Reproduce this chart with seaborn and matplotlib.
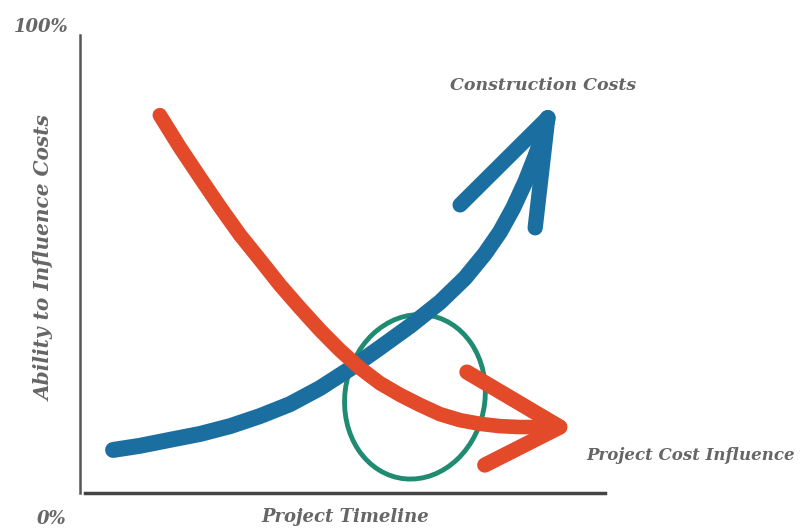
import matplotlib
matplotlib.use("Agg")
import matplotlib.pyplot as plt
import seaborn as sns
import pandas as pd
from matplotlib.patches import Ellipse

# ---- data (percent of timeline, percent of scale) ----
construction_x = [6.3, 11.4, 17.1, 22.9, 28.6, 34.3, 40.0, 45.7, 51.4, 57.1, 62.9, 68.6,
                  73.3, 77.1, 80.0, 82.5, 84.8, 86.7, 88.2, 89.1]
construction_y = [9.4, 10.3, 11.6, 12.9, 14.6, 16.8, 19.4, 22.9, 27.1, 31.7, 36.5, 41.7,
                  46.9, 52.2, 57.0, 62.2, 67.9, 73.4, 78.2, 81.9]
influence_x = [15.2, 19.0, 22.9, 26.7, 30.5, 34.3, 38.1, 41.9, 45.7, 49.5, 53.3, 57.1,
               61.0, 64.8, 68.6, 72.4, 76.2, 80.0, 83.8, 87.6, 91.4]
influence_y = [82.5, 75.5, 68.8, 62.4, 56.3, 50.9, 45.4, 40.4, 35.6, 31.2, 27.3, 24.0,
               21.4, 19.2, 17.2, 15.9, 15.1, 14.6, 14.4, 14.4, 14.4]
construction_head_x = [72.4, 89.1, 86.7]
construction_head_y = [62.9, 81.9, 57.9]
influence_head_x = [73.7, 91.4, 77.1]
influence_head_y = [26.4, 14.4, 6.1]
focus_center = (63.8, 21.0)
focus_size = (26.7, 36.0)
series_labels = ["Construction Costs", "Project Cost Influence"]
y_tick_labels = ["0%", "100%"]
x_title = "Project Timeline"
y_title = "Ability to Influence Costs"

BLUE = "#1a6fa0"
RED = "#e24a2a"
GREEN = "#1f8c72"
GREY = "#666666"

sns.set_theme(style="white")
fig = plt.figure(figsize=(8.04, 5.29), dpi=100)
ax = fig.add_axes([80 / 804, 1 - 493 / 529, 525 / 804, 458 / 529])

df_c = pd.DataFrame({"x": construction_x, "y": construction_y})
df_i = pd.DataFrame({"x": influence_x, "y": influence_y})
sns.lineplot(data=df_c, x="x", y="y", sort=False, ax=ax, color=BLUE, lw=11.5,
             solid_capstyle="round", solid_joinstyle="round")
sns.lineplot(data=df_i, x="x", y="y", sort=False, ax=ax, color=RED, lw=10.5,
             solid_capstyle="round", solid_joinstyle="round")
ax.plot(construction_head_x, construction_head_y, color=BLUE, lw=11,
        solid_capstyle="round", solid_joinstyle="round")
ax.plot(influence_head_x, influence_head_y, color=RED, lw=11,
        solid_capstyle="round", solid_joinstyle="round")
ax.add_patch(Ellipse(focus_center, focus_size[0], focus_size[1], angle=-6,
                     fill=False, edgecolor=GREEN, lw=3.5))

ax.set_xlim(0, 100)
ax.set_ylim(0, 100)
ax.set_xticks([])
ax.set_yticks([])
ax.set_xlabel("")
ax.set_ylabel("")
for s in ["top", "right"]:
    ax.spines[s].set_visible(False)
ax.spines["left"].set_color("#555555")
ax.spines["left"].set_linewidth(1.8)
ax.spines["bottom"].set_color("#444444")
ax.spines["bottom"].set_linewidth(2.5)
ax.spines["bottom"].set_bounds(1, 100)

font = dict(family="DejaVu Serif", style="italic", weight="bold", color=GREY)
fig.text(41 / 804, 1 - 27 / 529, y_tick_labels[1], ha="center", va="center", fontsize=13, **font)
fig.text(52 / 804, 1 - 519 / 529, y_tick_labels[0], ha="center", va="center", fontsize=13, **font)
fig.text(345 / 804, 1 - 517 / 529, x_title, ha="center", va="center", fontsize=13, **font)
fig.text(45 / 804, 1 - 258 / 529, y_title, ha="center", va="center", rotation=90, fontsize=14.5, **font)
fig.text(543 / 804, 1 - 85 / 529, series_labels[0], ha="center", va="center", fontsize=12.5, **font)
fig.text(691 / 804, 1 - 455 / 529, series_labels[1], ha="center", va="center", fontsize=12, **font)

fig.savefig("out.png", dpi=100)
